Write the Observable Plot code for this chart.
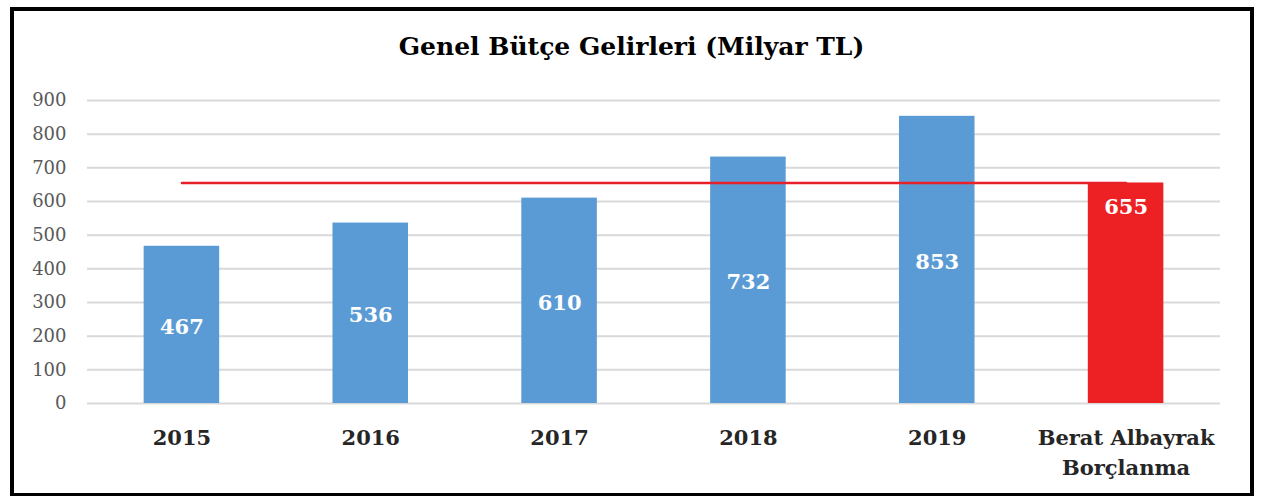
<!DOCTYPE html>
<html>
<head>
<meta charset="utf-8">
<script src="https://cdn.jsdelivr.net/npm/d3@7"></script>
<script src="https://cdn.jsdelivr.net/npm/@observablehq/plot@0.6"></script>
<style>
  html, body { margin: 0; padding: 0; background: #fff; width: 1263px; height: 496px; overflow: hidden; }
  #frame { position: absolute; left: 10px; top: 7px; width: 1244px; height: 490px; border: 4px solid #000; box-sizing: border-box; background: #fff; }
  #title { position: absolute; left: 0; top: 32px; width: 1263px; text-align: center; font-family: "DejaVu Serif", serif; font-weight: bold; font-size: 25px; color: #000; line-height: 30px; }
  #chart { position: absolute; left: 0; top: 80px; }
  #chart svg { background: transparent; }
</style>
</head>
<body>
<div id="frame"></div>
<div id="title">Genel Bütçe Gelirleri (Milyar TL)</div>
<div id="chart"></div>
<script>
const categories = ["2015", "2016", "2017", "2018", "2019", "Berat Albayrak\nBorçlanma"];
const values = [467, 536, 610, 732, 853, 655];
const barColors = ["#5b9bd5", "#5b9bd5", "#5b9bd5", "#5b9bd5", "#5b9bd5", "#ed2024"];
const yTicks = [0, 100, 200, 300, 400, 500, 600, 700, 800, 900];
const borrowing = 655;

const rows = categories.map((c, i) => ({cat: c, v: values[i], color: barColors[i]}));
const blueRows = rows.slice(0, 5);
const redRows = rows.slice(5);
const lineRows = [{cat: categories[0], v: borrowing}, {cat: categories[categories.length - 1], v: borrowing}];

const chart = Plot.plot({
  width: 1263,
  height: 410,
  marginLeft: 87,
  marginRight: 43,
  marginTop: 20,
  marginBottom: 87,
  style: {background: "transparent", fontFamily: "DejaVu Serif, serif"},
  x: {domain: categories, paddingInner: 0.6, paddingOuter: 0.3, round: false, label: null},
  y: {domain: [0, 900], label: null},
  marks: [
    Plot.ruleY(yTicks, {stroke: "#d9d9d9", strokeWidth: 2}),
    Plot.barY(rows, {x: "cat", y: "v", fill: "color"}),
    Plot.lineY(lineRows, {x: "cat", y: "v", stroke: "#e8202a", strokeWidth: 2.5}),
    Plot.text(blueRows, {x: "cat", y: d => d.v / 2, text: d => String(d.v), fill: "#fff", fontSize: 21, fontWeight: "bold", dy: 2}),
    Plot.text(redRows, {x: "cat", y: "v", text: d => String(d.v), fill: "#fff", fontSize: 21, fontWeight: "bold", dy: 24}),
    Plot.axisY({ticks: yTicks, tickSize: 0, tickPadding: 21, fontSize: 18, color: "#595959", label: null}),
    Plot.axisX({tickSize: 0, tickPadding: 21, fontSize: 21, fontWeight: "bold", color: "#262626", lineAnchor: "top", lineHeight: 1.4, label: null})
  ]
});
document.getElementById("chart").appendChild(chart);
</script>
</body>
</html>
